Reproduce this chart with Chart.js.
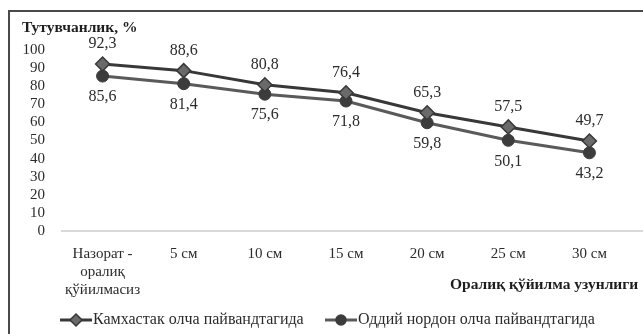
<!DOCTYPE html>
<html>
<head>
<meta charset="utf-8">
<script src="https://cdn.jsdelivr.net/npm/chart.js@4.4.1/dist/chart.umd.min.js"></script>
<style>
  html, body { margin: 0; padding: 0; background: #ffffff; overflow: hidden; }
  #wrap { position: relative; width: 643px; height: 334px; }
  canvas { display: block; }
</style>
</head>
<body>
<div id="wrap"><canvas id="c" width="643" height="334"></canvas></div>
<script>
// Categories: length of the interstock insert
const categories = [
  ['Назорат -', 'оралиқ', 'қўйилмасиз'],
  '5 см', '10 см', '15 см', '20 см', '25 см', '30 см'
];
// Graft survival, %
const kamkhastakValues = [92.3, 88.6, 80.8, 76.4, 65.3, 57.5, 49.7];
const oddiyValues      = [85.6, 81.4, 75.6, 71.8, 59.8, 50.1, 43.2];
const seriesNames = ['Камхастак олча пайвандтагида', 'Оддий нордон олча пайвандтагида'];
const yTicks = [0, 10, 20, 30, 40, 50, 60, 70, 80, 90, 100];
const yTitle = 'Тутувчанлик, %';
const xTitle = 'Оралиқ қўйилма узунлиги';

const SERIF = '"Liberation Serif", "DejaVu Serif", serif';
const TEXT = '#2b2b2b';
const AXIS = '#d9d9d9';

const LINE1 = '#383838', FILL1 = '#6a6a6a';
const LINE2 = '#5a5a5a', FILL2 = '#3c3c3c';

function fmt(v) { return v.toFixed(1).replace('.', ','); }

// Values printed next to each point, above for the first series, below for the second
const valueLabels = {
  id: 'valueLabels',
  afterDatasetsDraw(chart) {
    const ctx = chart.ctx;
    ctx.save();
    ctx.font = '16px ' + SERIF;
    ctx.fillStyle = TEXT;
    ctx.textAlign = 'center';
    ctx.textBaseline = 'middle';
    chart.data.datasets.forEach((ds, i) => {
      const meta = chart.getDatasetMeta(i);
      meta.data.forEach((pt, j) => {
        const dy = i === 0 ? -20 : 21;
        ctx.fillText(fmt(ds.data[j]), pt.x, pt.y + dy);
      });
    });
    ctx.restore();
  }
};

// Frame, axis titles and the legend row
const decorations = {
  id: 'decorations',
  beforeDraw(chart) {
    const ctx = chart.ctx;
    ctx.save();
    ctx.fillStyle = '#ffffff';
    ctx.fillRect(0, 0, chart.width, chart.height);
    ctx.strokeStyle = '#4a4a4a';
    ctx.lineWidth = 2;
    ctx.beginPath();
    ctx.moveTo(9, chart.height);
    ctx.lineTo(9, 11);
    ctx.lineTo(chart.width, 11);
    ctx.stroke();
    ctx.restore();
  },
  afterDraw(chart) {
    const ctx = chart.ctx;
    const area = chart.chartArea;
    ctx.save();
    // category axis line runs on to the frame's right side
    const yAxisLine = Math.round(area.bottom);
    ctx.strokeStyle = AXIS;
    ctx.lineWidth = 2;
    ctx.beginPath();
    ctx.moveTo(area.right, yAxisLine);
    ctx.lineTo(chart.width, yAxisLine);
    ctx.stroke();

    ctx.fillStyle = '#1e1e1e';
    ctx.font = 'bold 15.5px ' + SERIF;
    ctx.textBaseline = 'middle';
    ctx.textAlign = 'left';
    ctx.fillText(yTitle, 22, 28);
    ctx.fillText(xTitle, 450, 285);

    // legend
    const y = 320;
    const items = [
      { x: 60, name: seriesNames[0], line: LINE1, fill: FILL1, shape: 'diamond' },
      { x: 325, name: seriesNames[1], line: LINE2, fill: FILL2, shape: 'circle' }
    ];
    items.forEach(it => {
      ctx.strokeStyle = it.line;
      ctx.lineWidth = 3;
      ctx.beginPath();
      ctx.moveTo(it.x, y);
      ctx.lineTo(it.x + 32, y);
      ctx.stroke();
      ctx.lineWidth = 1.5;
      ctx.fillStyle = it.fill;
      ctx.strokeStyle = it.shape === 'circle' ? it.fill : it.line;
      ctx.beginPath();
      if (it.shape === 'circle') {
        ctx.arc(it.x + 16, y, 5, 0, Math.PI * 2);
      } else {
        ctx.moveTo(it.x + 16, y - 6); ctx.lineTo(it.x + 22, y);
        ctx.lineTo(it.x + 16, y + 6); ctx.lineTo(it.x + 10, y); ctx.closePath();
      }
      ctx.fill(); ctx.stroke();
      ctx.fillStyle = TEXT;
      ctx.font = '16px ' + SERIF;
      ctx.fillText(it.name, it.x + 33, y);
    });
    ctx.restore();
  }
};

new Chart(document.getElementById('c'), {
  type: 'line',
  data: {
    labels: categories,
    datasets: [
      {
        label: seriesNames[0],
        data: kamkhastakValues,
        borderColor: LINE1,
        borderWidth: 3,
        pointStyle: 'rectRot',
        pointRadius: 7,
        pointBackgroundColor: FILL1,
        pointBorderColor: LINE1,
        pointBorderWidth: 1.5,
        tension: 0
      },
      {
        label: seriesNames[1],
        data: oddiyValues,
        borderColor: LINE2,
        borderWidth: 3,
        pointStyle: 'circle',
        pointRadius: 6,
        pointBackgroundColor: FILL2,
        pointBorderColor: FILL2,
        pointBorderWidth: 1,
        tension: 0
      }
    ]
  },
  options: {
    responsive: false,
    animation: false,
    events: [],
    layout: { padding: { left: 0, right: 13, top: 50, bottom: 0 } },
    plugins: {
      legend: { display: false },
      title: { display: false },
      tooltip: { enabled: false }
    },
    scales: {
      x: {
        offset: true,
        grid: { display: false, drawTicks: false },
        border: { display: true, color: AXIS, width: 2 },
        ticks: {
          color: TEXT,
          font: { family: SERIF, size: 15, lineHeight: 1.2 },
          padding: 14,
          maxRotation: 0,
          autoSkip: false
        },
        afterFit(scale) { scale.height = 103; }
      },
      y: {
        min: 0,
        max: 100,
        afterBuildTicks(scale) { scale.ticks = yTicks.map(v => ({ value: v })); },
        grid: { display: false, drawTicks: false },
        border: { display: false },
        ticks: {
          color: TEXT,
          font: { family: SERIF, size: 15 },
          padding: 17,
          stepSize: 10,
          autoSkip: false
        },
        afterFit(scale) { scale.width = 62; }
      }
    }
  },
  plugins: [decorations, valueLabels]
});
</script>
</body>
</html>
